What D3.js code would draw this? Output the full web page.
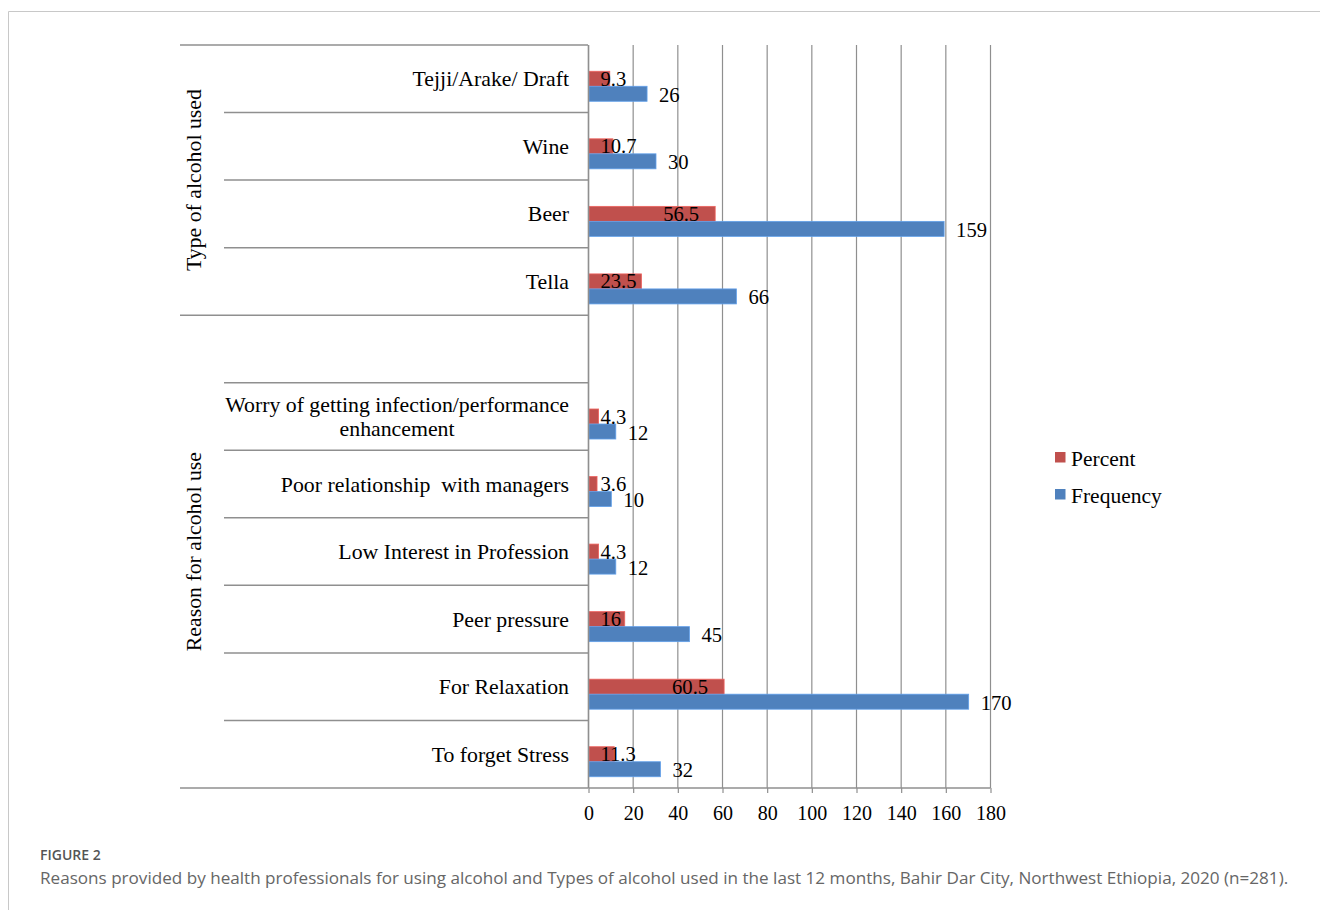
<!DOCTYPE html>
<html>
<head>
<meta charset="utf-8">
<script src="https://cdn.jsdelivr.net/npm/d3@7"></script>
<style>
  html, body { margin: 0; padding: 0; background: #fff; }
  svg { display: block; }
  text { white-space: pre; }
</style>
</head>
<body>
<svg id="chart" width="1320" height="910"></svg>
<script>
// ---- Data ----
const typeCategories = ["Tejji/Arake/ Draft", "Wine", "Beer", "Tella"];
const typePercent = [9.3, 10.7, 56.5, 23.5];
const typeFrequency = [26, 30, 159, 66];

const reasonCategories = [
  "Worry of getting infection/performance enhancement",
  "Poor relationship  with managers",
  "Low Interest in Profession",
  "Peer pressure",
  "For Relaxation",
  "To forget Stress"
];
const reasonPercent = [4.3, 3.6, 4.3, 16, 60.5, 11.3];
const reasonFrequency = [12, 10, 12, 45, 170, 32];

const groupLabels = ["Type of alcohol used", "Reason for alcohol use"];
const seriesNames = ["Percent", "Frequency"];
const xTicks = [0, 20, 40, 60, 80, 100, 120, 140, 160, 180];

// Multi-line wrapping for the long reason label
const labelLines = {
  "Worry of getting infection/performance enhancement":
    ["Worry of getting infection/performance", "enhancement"]
};

// ---- Layout ----
const colors = { Percent: "#C0504D", Frequency: "#4F81BD" };
const serif = "'Liberation Serif', 'Times New Roman', serif";
const sans = "'Open Sans', 'Noto Sans', sans-serif";
const gridColor = "#8f8f8f";
const catFont = 21.8, valueFont = 20.6, tickFont = 20;

const svg = d3.select("#chart");

// Page frame
svg.append("path")
  .attr("d", "M8.5,910 L8.5,11.5 L1320,11.5")
  .attr("fill", "none").attr("stroke", "#c8c8c8").attr("stroke-width", 1);

const plot = { left: 588, right: 990, top: 45, bottom: 788 };
const outerLeft = 180, innerLeft = 224;

// Slots: type group, an empty slot opening the reason group, then reasons
const spacerKey = "__spacer__";
const slots = [...typeCategories, spacerKey, ...reasonCategories];

const rows = [
  ...typeCategories.map((c, i) => ({ cat: c, Percent: typePercent[i], Frequency: typeFrequency[i] })),
  ...reasonCategories.map((c, i) => ({ cat: c, Percent: reasonPercent[i], Frequency: reasonFrequency[i] }))
];

const x = d3.scaleLinear().domain([0, 180]).range([plot.left, plot.right]);
const y = d3.scaleBand().domain(slots).range([plot.top, plot.bottom]).padding(0);
// three sub-slots per category, the first left open above the two series
const ySub = d3.scaleBand().domain(["", ...seriesNames])
  .range([0, y.bandwidth()]).paddingInner(0).paddingOuter(0.75);

// Vertical gridlines
svg.append("g").selectAll("line").data(xTicks).join("line")
  .attr("x1", d => x(d) + 0.5).attr("x2", d => x(d) + 0.5)
  .attr("y1", plot.top).attr("y2", plot.bottom)
  .attr("stroke", gridColor).attr("stroke-width", 1.2);

// Category separators (multi-level axis)
const groupBounds = [0, typeCategories.length, slots.length];
const sepG = svg.append("g");
for (let i = 0; i <= slots.length; i++) {
  const yy = plot.top + i * y.step();
  const isOuter = groupBounds.includes(i);
  sepG.append("line")
    .attr("x1", isOuter ? outerLeft : innerLeft).attr("x2", plot.left)
    .attr("y1", yy).attr("y2", yy)
    .attr("stroke", gridColor).attr("stroke-width", 1.5);
}

// Bars
const barG = svg.append("g");
seriesNames.forEach(s => {
  barG.selectAll("rect." + s).data(rows).join("rect")
    .attr("class", s)
    .attr("x", x(0) + 1)
    .attr("y", d => y(d.cat) + ySub(s))
    .attr("width", d => x(d[s]) - x(0))
    .attr("height", ySub.bandwidth())
    .attr("fill", colors[s])
    .attr("stroke", d3.color(colors[s]).brighter(0.6))
    .attr("stroke-width", 0.8);
});

// Value axis line and ticks
const xAxis = d3.axisBottom(x).tickValues(xTicks).tickSize(5).tickFormat(d3.format("d"));
const axG = svg.append("g").attr("transform", `translate(0.5,${plot.bottom})`).call(xAxis);
axG.select(".domain").attr("stroke", gridColor).attr("stroke-width", 1.5)
  .attr("d", `M${plot.left},0H${plot.right}`);
axG.selectAll(".tick line").attr("stroke", gridColor).attr("stroke-width", 1.2);
axG.selectAll(".tick text")
  .attr("y", 32).attr("dy", null)
  .attr("font-family", serif).attr("font-size", tickFont).attr("fill", "#000");

// Vertical category axis line
svg.append("line")
  .attr("x1", plot.left + 0.5).attr("x2", plot.left + 0.5)
  .attr("y1", plot.top).attr("y2", plot.bottom)
  .attr("stroke", gridColor).attr("stroke-width", 1.5);

// Data labels: percent inside the bar end (kept clear of the base), frequency beyond the bar
const lblG = svg.append("g").attr("font-family", serif).attr("font-size", valueFont).attr("fill", "#000");
rows.forEach(d => {
  const yP = y(d.cat) + ySub("Percent") + ySub.bandwidth() / 2;
  const t = lblG.append("text").attr("y", yP + 7).text(d.Percent);
  const w = t.node().getComputedTextLength();
  t.attr("x", Math.max(x(0) + 12.5, x(d.Percent) - 15 - w));

  const yF = y(d.cat) + ySub("Frequency") + ySub.bandwidth() / 2;
  lblG.append("text").attr("x", x(d.Frequency) + 13).attr("y", yF + 8).text(d.Frequency);
});

// Category labels
const catG = svg.append("g").attr("font-family", serif).attr("font-size", catFont).attr("fill", "#000");
const labelRight = 569;
rows.forEach(d => {
  const cy = y(d.cat) + y.bandwidth() / 2;
  const lines = labelLines[d.cat];
  if (!lines) {
    catG.append("text").attr("x", labelRight).attr("y", cy + 7.5)
      .attr("text-anchor", "end").text(d.cat);
  } else {
    const texts = lines.map((ln, k) => catG.append("text")
      .attr("y", cy + (k - (lines.length - 1) / 2) * 24.5 + 7.5)
      .attr("text-anchor", "middle").text(ln));
    const maxW = d3.max(texts, t => t.node().getComputedTextLength());
    texts.forEach(t => t.attr("x", labelRight - maxW / 2));
  }
});

// Outer group labels, rotated
const groupSpans = [
  [y(typeCategories[0]), y(typeCategories[typeCategories.length - 1]) + y.bandwidth()],
  [y(spacerKey), y(reasonCategories[reasonCategories.length - 1]) + y.bandwidth()]
];
groupLabels.forEach((g, i) => {
  const cy = (groupSpans[i][0] + groupSpans[i][1]) / 2;
  svg.append("text")
    .attr("transform", `translate(201,${cy}) rotate(-90)`)
    .attr("text-anchor", "middle")
    .attr("font-family", serif).attr("font-size", catFont).attr("fill", "#000")
    .text(g);
});

// Legend
const legend = svg.append("g").attr("transform", "translate(1055,452)");
seriesNames.forEach((s, i) => {
  const row = legend.append("g").attr("transform", `translate(0,${i * 37})`);
  row.append("rect").attr("width", 10.5).attr("height", 10.5).attr("fill", colors[s]);
  row.append("text").attr("x", 16).attr("y", 13.5)
    .attr("font-family", serif).attr("font-size", 21.5).attr("fill", "#000").text(s);
});

// Caption
svg.append("text").attr("x", 40).attr("y", 860)
  .attr("font-family", sans).attr("font-size", 14).attr("font-weight", 600)
  .attr("fill", "#555").text("FIGURE 2");
svg.append("text").attr("x", 40).attr("y", 884)
  .attr("font-family", sans).attr("font-size", 17.1)
  .attr("fill", "#666")
  .text("Reasons provided by health professionals for using alcohol and Types of alcohol used in the last 12 months, Bahir Dar City, Northwest Ethiopia, 2020 (n=281).");
</script>
</body>
</html>
